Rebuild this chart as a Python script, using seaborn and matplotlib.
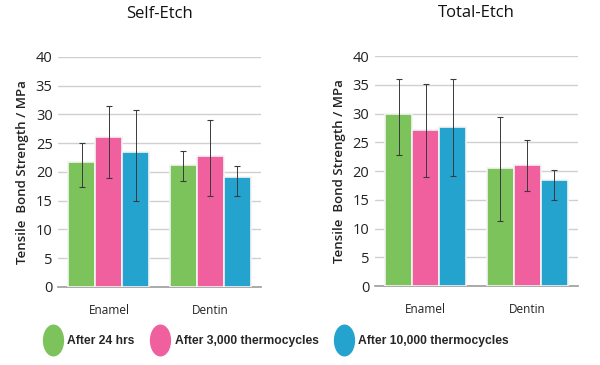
import numpy as np
import pandas as pd
import matplotlib
matplotlib.use("Agg")
import matplotlib.pyplot as plt
import seaborn as sns
from matplotlib.lines import Line2D
from matplotlib.path import Path
from matplotlib.transforms import Affine2D

# ===============================
# DATA
# ===============================
tissues = ["Enamel", "Dentin"]
conditions = ["After 24 hrs", "After 3,000 thermocycles", "After 10,000 thermocycles"]
colors = ["#7DC35B", "#F0609E", "#25A3CF"]

# mean values, rows = condition, cols = tissue
self_mean = [[21.7, 21.2], [26.0, 22.8], [23.4, 19.2]]
self_low = [[17.4, 18.5], [19.0, 15.8], [15.0, 15.8]]
self_high = [[25.0, 23.6], [31.5, 29.0], [30.8, 21.0]]

total_mean = [[30.0, 20.5], [27.2, 21.1], [27.7, 18.4]]
total_low = [[22.9, 11.4], [19.0, 16.6], [19.1, 15.0]]
total_high = [[36.0, 29.5], [35.2, 25.5], [36.0, 20.2]]

panels = [
    ("Self-Etch", self_mean, self_low, self_high),
    ("Total-Etch", total_mean, total_low, total_high),
]

sns.set_theme(style="white")
plt.rcParams["font.family"] = ["Open Sans", "DejaVu Sans"]

fig = plt.figure(figsize=(6, 3.65), dpi=100)
axes = [
    fig.add_axes([0.097, 0.214, 0.338, 0.630]),
    fig.add_axes([0.625, 0.216, 0.338, 0.630]),
]

for ax, (title, mean, low, high) in zip(axes, panels):
    rows = []
    for ci, cond in enumerate(conditions):
        for ti, tis in enumerate(tissues):
            rows.append({"tissue": tis, "cond": cond, "val": mean[ci][ti]})
    df = pd.DataFrame(rows)

    sns.barplot(data=df, x="tissue", y="val", hue="cond", order=tissues,
                hue_order=conditions, palette=colors, errorbar=None,
                saturation=1, width=0.8, edgecolor="#F4F4F4", linewidth=1.2,
                ax=ax, zorder=3)

    # error bars on top of each bar
    bar_groups = list(ax.containers)
    for ci, cont in enumerate(bar_groups):
        for ti, bar in enumerate(cont.patches):
            xc = bar.get_x() + bar.get_width() / 2
            v = mean[ci][ti]
            ax.errorbar(xc, v, yerr=[[v - low[ci][ti]], [high[ci][ti] - v]],
                        fmt="none", ecolor="#3A3A3A", elinewidth=0.7,
                        capsize=2, capthick=0.8, zorder=4)

    ax.set_ylim(0, 40)
    ax.set_xlim(-0.5, 1.5)
    ax.set_yticks(range(0, 41, 5))
    ax.yaxis.grid(True, color="#D0D0D0", linewidth=1)
    ax.set_axisbelow(True)
    for s in ["top", "right", "left"]:
        ax.spines[s].set_visible(False)
    ax.spines["bottom"].set_color("#A0A0A0")
    ax.tick_params(axis="y", length=0, labelsize=10.5, pad=4, labelcolor="#222222")
    ax.tick_params(axis="x", length=0, labelsize=8.5, pad=12, labelcolor="#222222")
    ax.set_xlabel("")
    ax.set_ylabel("Tensile  Bond Strength / MPa", fontsize=9.5, color="#222222",
                  fontweight="semibold", labelpad=5)
    ax.set_title(title, fontsize=12, pad=28, color="#111111")
    ax.legend_.remove()

# ===============================
# LEGEND
# ===============================
oval = Path.unit_circle().transformed(Affine2D().scale(0.65, 1.0))
handles = [Line2D([], [], linestyle="none", marker=oval, markersize=22,
                  markerfacecolor=c, markeredgecolor=c) for c in colors]
fig.legend(handles, conditions, loc="center", bbox_to_anchor=(0.458, 0.066),
           ncol=3, frameon=False, handletextpad=0.2, columnspacing=1.1,
           prop={"family": "Liberation Sans", "weight": "bold", "size": 8.7})

plt.savefig("out.png", dpi=100)
